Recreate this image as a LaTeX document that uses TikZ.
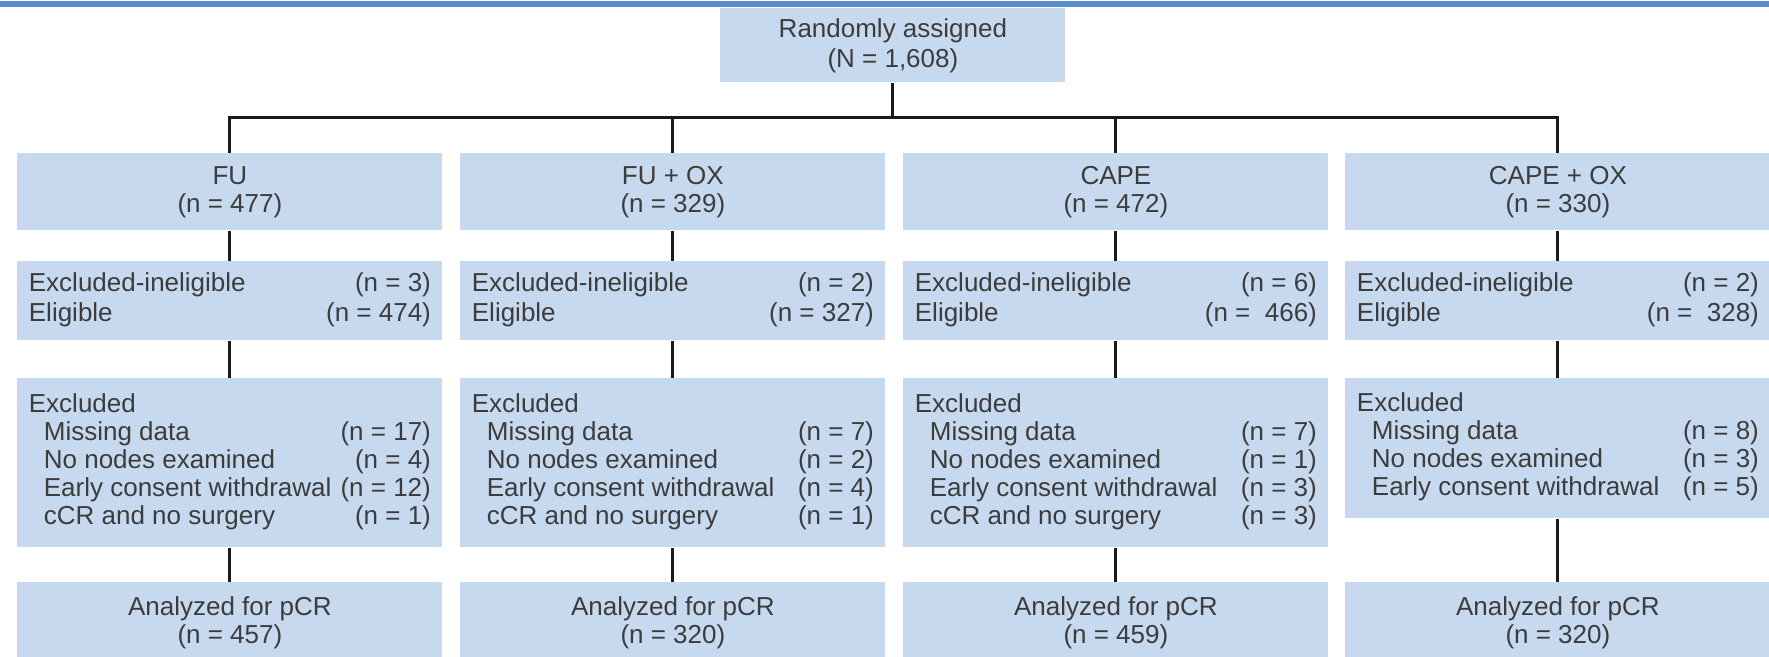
\documentclass[tikz,border=0pt]{standalone}
\usepackage{fontspec}
\setmainfont{Liberation Sans}
\definecolor{boxblue}{HTML}{C7D9EF}
\definecolor{barblue}{HTML}{5B8FCB}
\definecolor{txtgray}{HTML}{3C3C3C}
\definecolor{linkblack}{HTML}{1A1A1A}
\newcommand{\flowfont}{\fontsize{13}{14}\selectfont}
\newcommand{\wideflowfont}{\fontsize{13}{15}\selectfont}
% two-column list: label on the left, count flush right
\newenvironment{countlist}{\begin{tabular*}{201pt}{@{}l@{\extracolsep{\fill}}r@{}}}{\end{tabular*}}
\newcommand{\sub}{\hspace*{7.5pt}}
\tikzset{
  flowbox/.style={fill=boxblue, draw=none, inner sep=0pt, anchor=north west,
                  minimum width=212.5pt, text=txtgray, font=\flowfont},
  centerbox/.style={flowbox, align=center},
  rootbox/.style={centerbox, font=\wideflowfont, minimum width=172.5pt, minimum height=37pt},
  armbox/.style={centerbox, minimum height=38.5pt},
  eligbox/.style={flowbox, font=\wideflowfont, minimum height=39.5pt},
  exclbox/.style={flowbox, minimum height=84.5pt},
  exclshort/.style={flowbox, minimum height=70pt},
  resultbox/.style={centerbox, minimum height=40pt},
  link/.style={draw=linkblack, line width=1.5pt, line join=miter}
}
\begin{document}
\begin{tikzpicture}[x=0.5pt, y=-0.5pt]
\useasboundingbox (0,0) rectangle (1769,657);
% header rule
\fill[barblue] (0,1.5) rectangle (1769,7.5);

% randomisation
\node[rootbox] (root) at (720,8) {Randomly assigned\\(N = 1,608)};

% treatment arms
\node[armbox] (fu1) at (17,153)   {FU\\(n = 477)};
\node[armbox] (fo1) at (460,153)  {FU + OX\\(n = 329)};
\node[armbox] (ca1) at (903,153)  {CAPE\\(n = 472)};
\node[armbox] (co1) at (1345,153) {CAPE + OX\\(n = 330)};

% eligibility
\node[eligbox] (fu2) at (17,261) {\begin{countlist}
  Excluded-ineligible & (n = 3)\\ Eligible & (n = 474)\end{countlist}};
\node[eligbox] (fo2) at (460,261) {\begin{countlist}
  Excluded-ineligible & (n = 2)\\ Eligible & (n = 327)\end{countlist}};
\node[eligbox] (ca2) at (903,261) {\begin{countlist}
  Excluded-ineligible & (n = 6)\\ Eligible & (n =\ \ 466)\end{countlist}};
\node[eligbox] (co2) at (1345,261) {\begin{countlist}
  Excluded-ineligible & (n = 2)\\ Eligible & (n =\ \ 328)\end{countlist}};

% exclusions
\node[exclbox] (fu3) at (17,378) {\begin{countlist}
  Excluded & \\
  \sub Missing data & (n = 17)\\
  \sub No nodes examined & (n = 4)\\
  \sub Early consent withdrawal & (n = 12)\\
  \sub cCR and no surgery & (n = 1)\end{countlist}};
\node[exclbox] (fo3) at (460,378) {\begin{countlist}
  Excluded & \\
  \sub Missing data & (n = 7)\\
  \sub No nodes examined & (n = 2)\\
  \sub Early consent withdrawal & (n = 4)\\
  \sub cCR and no surgery & (n = 1)\end{countlist}};
\node[exclbox] (ca3) at (903,378) {\begin{countlist}
  Excluded & \\
  \sub Missing data & (n = 7)\\
  \sub No nodes examined & (n = 1)\\
  \sub Early consent withdrawal & (n = 3)\\
  \sub cCR and no surgery & (n = 3)\end{countlist}};
\node[exclshort] (co3) at (1345,378) {\begin{countlist}
  Excluded & \\
  \sub Missing data & (n = 8)\\
  \sub No nodes examined & (n = 3)\\
  \sub Early consent withdrawal & (n = 5)\end{countlist}};

% analysed
\node[resultbox] (fu4) at (17,582)   {Analyzed for pCR\\(n = 457)};
\node[resultbox] (fo4) at (460,582)  {Analyzed for pCR\\(n = 320)};
\node[resultbox] (ca4) at (903,582)  {Analyzed for pCR\\(n = 459)};
\node[resultbox] (co4) at (1345,582) {Analyzed for pCR\\(n = 320)};

% split from randomisation to the four arms
\coordinate (split) at (root.south |- 0,118);
\draw[link] (root.south) -- (split);
\draw[link] (fu1.north) -- (fu1.north |- split) -- (co1.north |- split) -- (co1.north);
\draw[link] (fo1.north) -- (fo1.north |- split);
\draw[link] (ca1.north) -- (ca1.north |- split);

% flow down each arm
\foreach \a in {fu,fo,ca,co}{
  \draw[link] (\a1.south) -- (\a2.north);
  \draw[link] (\a2.south) -- (\a3.north);
  \draw[link] (\a3.south) -- (\a4.north);
}
\end{tikzpicture}
\end{document}
